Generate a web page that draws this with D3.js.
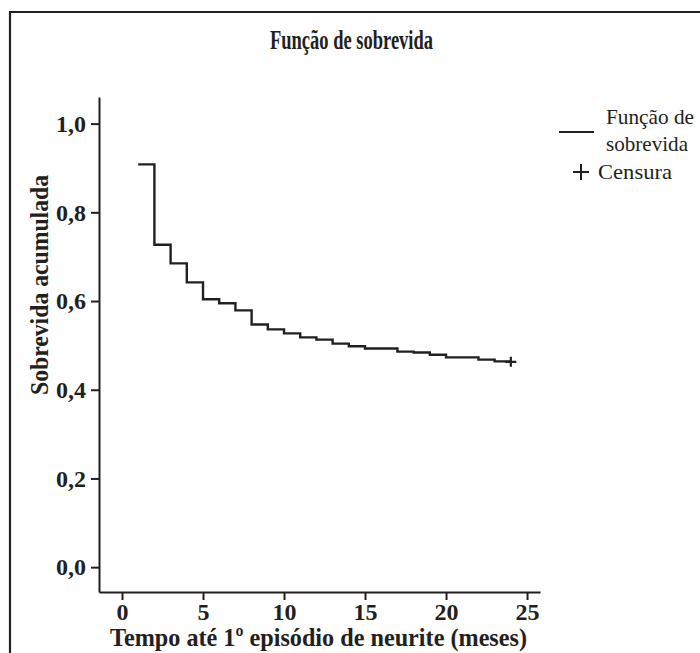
<!DOCTYPE html>
<html>
<head>
<meta charset="utf-8">
<script src="https://cdn.jsdelivr.net/npm/d3@7"></script>
<style>
  html, body { margin: 0; padding: 0; background: #fff; }
  svg { display: block; }
</style>
</head>
<body>
<script>
// survival curve: start value, then step drops at each month
const startTime = 1;
const startValue = 0.908;
const stepTimes  = [2, 3, 4, 5, 6, 7, 8, 9, 10, 11, 12, 13, 14, 15, 17, 18, 19, 20, 22, 23];
const stepValues = [0.727, 0.685, 0.642, 0.604, 0.595, 0.579, 0.547, 0.536, 0.527, 0.518,
                    0.513, 0.504, 0.498, 0.493, 0.486, 0.484, 0.479, 0.473, 0.468, 0.464];
const endTime = 24;
const censorTimes  = [24];
const censorValues = [0.463];

const xTicks = [0, 5, 10, 15, 20, 25];
const yTicks = [0, 0.2, 0.4, 0.6, 0.8, 1.0];

const ink = "#231f20";
const serif = "'Liberation Serif', 'DejaVu Serif', serif";
const W = 700, H = 653;

let svg = d3.select("body").append("svg").attr("width", W).attr("height", H);

// text helper: serif, optionally squeezed to a given width (the original face is condensed)
function label(sel, txt, size, bold, len) {
    let t = sel.append("text")
        .attr("fill", ink)
        .attr("font-family", serif)
        .attr("font-size", size)
        .attr("font-weight", bold ? "bold" : "normal")
        .text(txt);
    if (len) t.attr("textLength", len).attr("lengthAdjust", "spacingAndGlyphs");
    return t;
}

// outer frame (cut off at right & bottom like the scan)
svg.append("path")
    .attr("d", `M10,${H + 2} L10,12 L${W + 2},12`)
    .attr("fill", "none")
    .attr("stroke", ink)
    .attr("stroke-width", 2.2);

// title
label(svg, "Função de sobrevida", 27, true, 163)
    .attr("x", 270).attr("y", 49);

// scales
let x = d3.scaleLinear().domain([-1.42, 25.8]).range([99, 540]);
let y = d3.scaleLinear().domain([-0.056, 1.06]).range([592, 97]);

// y axis
let axis_y = d3.axisLeft(y).tickValues(yTicks).tickSize(8).tickSizeOuter(0).tickPadding(5)
    .tickFormat(d => d3.format(".1f")(d).replace(".", ","));
let gy = svg.append("g").attr("transform", "translate(99,0)").call(axis_y);

// x axis
let axis_x = d3.axisBottom(x).tickValues(xTicks).tickSize(8).tickSizeOuter(0).tickPadding(3)
    .tickFormat(d3.format("d"));
let gx = svg.append("g").attr("transform", "translate(0,592)").call(axis_x);

[gx, gy].forEach(g => {
    g.attr("font-family", serif);
    g.selectAll("path, line").attr("stroke", ink).attr("stroke-width", 2);
    g.selectAll("text")
        .attr("fill", ink)
        .attr("font-family", serif)
        .attr("font-weight", "bold")
        .attr("font-size", 24);
});

// axis titles
label(svg, "Sobrevida acumulada", 26, true, 220)
    .attr("transform", "translate(48,395) rotate(-90)");

label(svg, "Tempo até 1º episódio de neurite (meses)", 26, true, 417)
    .attr("x", 110).attr("y", 646);

// step curve
let pts = [[startTime, startValue]];
stepTimes.forEach((t, i) => pts.push([t, stepValues[i]]));
pts.push([endTime, stepValues[stepValues.length - 1]]);

let line = d3.line()
    .x(d => x(d[0]))
    .y(d => y(d[1]))
    .curve(d3.curveStepAfter);

svg.append("path")
    .datum(pts)
    .attr("d", line)
    .attr("fill", "none")
    .attr("stroke", ink)
    .attr("stroke-width", 2.4);

// censor marks
let plus = (cx, cy, w, h) => `M${cx - w / 2},${cy} L${cx + w / 2},${cy} M${cx},${cy - h / 2} L${cx},${cy + h / 2}`;
svg.append("g").selectAll("path").data(censorTimes).enter()
    .append("path")
    .attr("d", (t, i) => plus(x(t), y(censorValues[i]), 11, 10))
    .attr("stroke", ink)
    .attr("stroke-width", 2.2);

// legend
let lg = svg.append("g");
lg.append("line")
    .attr("x1", 559).attr("x2", 594).attr("y1", 132).attr("y2", 132)
    .attr("stroke", ink).attr("stroke-width", 2);
label(lg, "Função de", 22, false, 88).attr("x", 606).attr("y", 124);
label(lg, "sobrevida", 22, false, 82).attr("x", 606).attr("y", 151);
lg.append("path")
    .attr("d", plus(581, 172, 16, 16))
    .attr("stroke", ink).attr("stroke-width", 2);
label(lg, "Censura", 22, false, 74).attr("x", 598).attr("y", 179);
</script>
</body>
</html>
